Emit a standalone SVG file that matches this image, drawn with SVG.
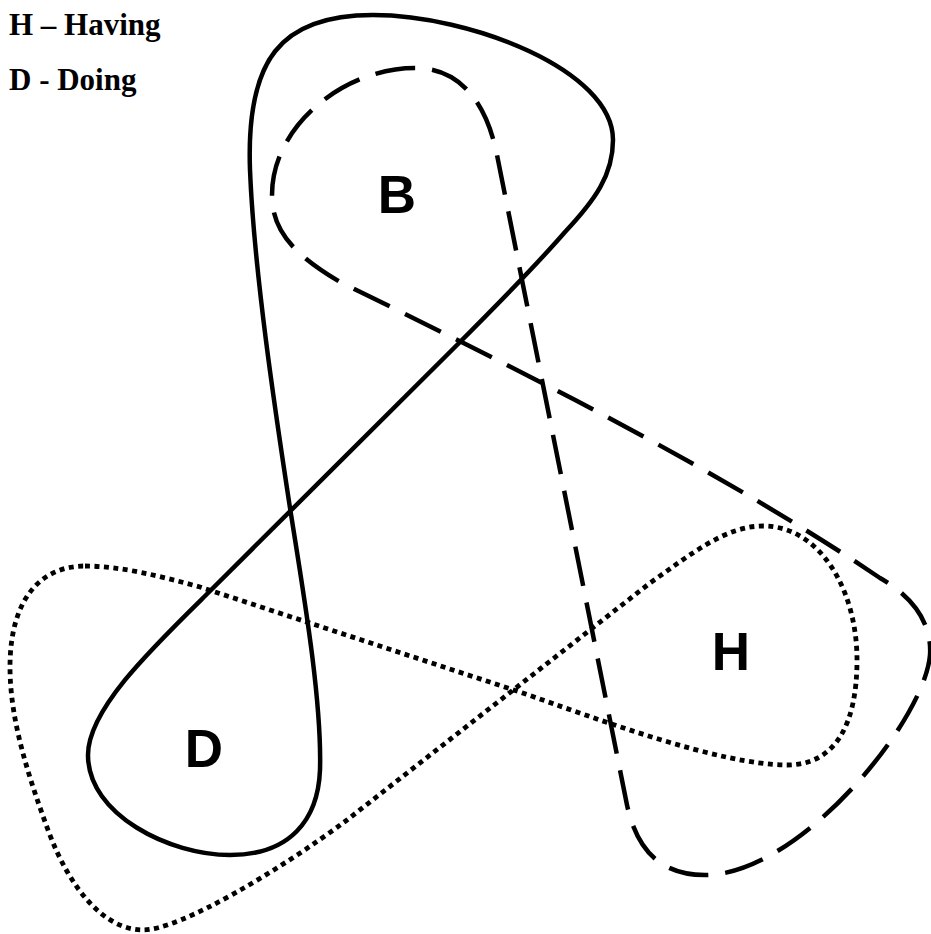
<svg xmlns="http://www.w3.org/2000/svg" width="931" height="934" viewBox="0 0 931 934">
<style>
.c{fill:none;stroke:#000;stroke-width:4.5;stroke-linejoin:round}
.dash{stroke-dasharray:40 17}
.dot{stroke-width:4.8;stroke-dasharray:5 4.5}
.lbl{font-family:"Liberation Sans",Arial,sans-serif;font-weight:bold;font-size:53px;fill:#000;text-anchor:middle}
.leg{font-family:"Liberation Serif","Times New Roman",serif;font-weight:bold;font-size:31px;fill:#000}
</style>
<rect width="931" height="934" fill="#fff"/>
<g id="legend">
<text class="leg" x="9" y="35">H – Having</text>
<text class="leg" x="9" y="90">D - Doing</text>
</g>
<g id="connectors">
<path id="solid-BD" class="c" d="M 250,170 C 246,60 280,15 373,15 C 470,15 613,70 613,140 C 613,175 595,200 565,232 C 545,255 520,282 457,345 L 205,596 C 150,650 88,710 88,755 C 88,815 170,855 230,855 C 290,855 318,820 320,770 C 322,700 303,590 290,508 C 275,410 254,270 250,170 Z"/>
<path id="dashed-BH" class="c dash" d="M 415,68 C 345,68 272,125 272,195 C 272,232 295,255 340,282 C 520,370 720,470 880,578 C 915,598 932,625 930,655 C 925,720 800,875 705,875 C 665,875 638,855 627,805 L 497,155 C 488,110 465,68 415,68 Z"/>
<path id="dotted-DH" class="c dot" d="M 85,566 C 120,566 160,576 200,587 L 520,692 C 600,720 720,765 787,765 C 835,765 857,725 857,660 C 857,590 820,526 763,526 C 725,526 690,555 650,583 L 347,820 C 280,870 180,930 143,930 C 105,930 70,890 48,830 C 28,775 10,720 10,667 C 10,600 40,566 85,566 Z"/>
</g>
<g id="node-B"><text class="lbl" x="397" y="213">B</text></g>
<g id="node-D"><text class="lbl" x="204" y="767">D</text></g>
<g id="node-H"><text class="lbl" x="731" y="670">H</text></g>
</svg>
